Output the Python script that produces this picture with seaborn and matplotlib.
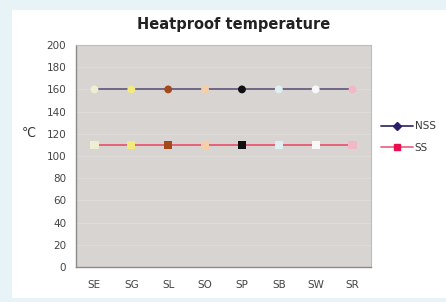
import matplotlib
matplotlib.use("Agg")
import matplotlib.pyplot as plt
import seaborn as sns
import pandas as pd
from matplotlib.lines import Line2D
from matplotlib.patches import Rectangle

categories = ["SE", "SG", "SL", "SO", "SP", "SB", "SW", "SR"]
nss_values = [160, 160, 160, 160, 160, 160, 160, 160]
ss_values = [110, 110, 110, 110, 110, 110, 110, 110]
point_colors = ["#eeefd2", "#f2ea7c", "#a24a1c", "#f6cfa8", "#101010",
                "#dff0f2", "#f8f8f8", "#f2b8c6"]
y_ticks = [0, 20, 40, 60, 80, 100, 120, 140, 160, 180, 200]

df = pd.DataFrame({
    "cat": categories * 2,
    "value": nss_values + ss_values,
    "series": ["NSS"] * len(categories) + ["SS"] * len(categories),
    "pcolor": point_colors * 2,
})
df["x"] = df.groupby("series").cumcount()

sns.set_style("white")
plt.rcParams["font.family"] = ["DejaVu Sans"]

fig = plt.figure(figsize=(4.46, 3.02), dpi=100, facecolor="#e7f3f7")
# white panel behind the chart
fig.patches.append(Rectangle((12 / 446, 4 / 302), 1, 288 / 302, transform=fig.transFigure,
                             facecolor="white", edgecolor="none", zorder=-10))

ax = fig.add_axes([76 / 446, 35 / 302, 295 / 446, 222 / 302])
ax.set_zorder(2)
ax.set_facecolor("#d8d4d2")

line_colors = {"NSS": "#665e80", "SS": "#e85872"}
sns.lineplot(data=df, x="x", y="value", hue="series", palette=line_colors,
             linewidth=1.3, legend=False, ax=ax, zorder=2)

for series, mk, size in [("NSS", "o", 32), ("SS", "s", 36)]:
    sub = df[df["series"] == series]
    sns.scatterplot(data=sub, x="x", y="value", hue="cat",
                    palette=dict(zip(sub["cat"], sub["pcolor"])),
                    marker=mk, s=size, linewidth=0, legend=False, ax=ax, zorder=3)

ax.set_xlim(-0.5, len(categories) - 0.5)
ax.set_ylim(0, 200)
ax.set_yticks(y_ticks)
ax.set_xticks(range(len(categories)))
ax.set_xticklabels(categories)
ax.grid(axis="y", color="#e0dcda", linewidth=0.6)
ax.tick_params(axis="both", length=0, labelsize=7.5, labelcolor="#444444")
ax.tick_params(axis="x", pad=9)
ax.tick_params(axis="y", pad=7)
ax.set_xlabel("")
ax.set_ylabel("")
for side in ["left", "bottom"]:
    ax.spines[side].set_color("#8a8a8a")
    ax.spines[side].set_linewidth(1.0)
for side in ["top", "right"]:
    ax.spines[side].set_color("#bcbcbc")
    ax.spines[side].set_linewidth(0.8)

fig.text(22 / 446, 1 - 133 / 302, "℃", fontsize=9, color="#333333",
         ha="left", va="center")
fig.text(234 / 446, 1 - 24 / 302, "Heatproof temperature", fontsize=10.5,
         fontweight="bold", color="#222222", ha="center", va="center")

handles = [Line2D([0], [0], color="#3c3468", marker="D", markersize=4.5,
                  markerfacecolor="#28206a", markeredgecolor="#28206a", linewidth=1.3),
           Line2D([0], [0], color="#ec6a84", marker="s", markersize=5,
                  markerfacecolor="#e8104e", markeredgecolor="#e8104e", linewidth=1.3)]
fig.legend(handles, ["NSS", "SS"], loc="center left",
           bbox_to_anchor=(372 / 446, 1 - 137 / 302), frameon=False,
           fontsize=7.5, handlelength=3.0, handletextpad=0.2, labelspacing=1.1,
           labelcolor="#3a3a3a")

fig.savefig("out.png", dpi=100, facecolor=fig.get_facecolor())
